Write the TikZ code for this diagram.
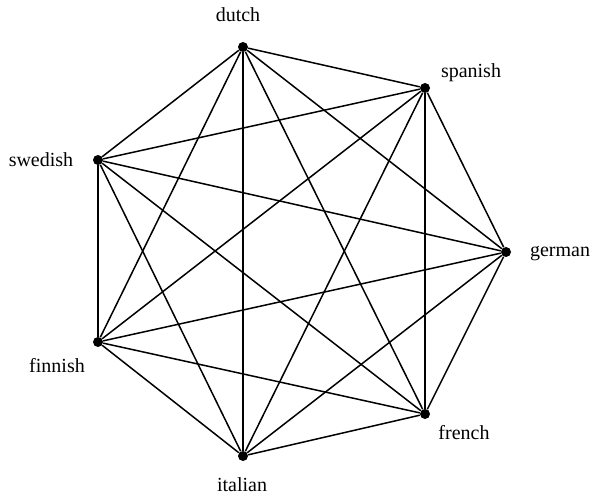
\documentclass[tikz,border=0pt]{standalone}
\usepackage{fontspec}
\setmainfont{Liberation Serif}
\usepackage{tikz}
\usetikzlibrary{positioning}

\begin{document}
\begin{tikzpicture}[x=0.6pt,y=-0.6pt,
    vertex/.style={circle,fill=black,inner sep=0pt,minimum size=6pt},
    lbl/.style={font=\fontsize{12}{14}\selectfont,inner sep=1pt},
    edge/.style={line width=0.9pt}]
    \useasboundingbox (0,0) rectangle (593,495);

    \node[vertex] (dutch) at (243,47) {};
    \node[vertex] (spanish) at (425,88) {};
    \node[vertex] (german) at (506,252) {};
    \node[vertex] (french) at (425,414) {};
    \node[vertex] (italian) at (243,456) {};
    \node[vertex] (finnish) at (98,342) {};
    \node[vertex] (swedish) at (98,160) {};

    \node[lbl] (dutchL) at (238,15) {dutch};
    \node[lbl] (spanishL) at (471,73) {spanish};
    \node[lbl] (germanL) at (560,254) {german};
    \node[lbl] (frenchL) at (464,433) {french};
    \node[lbl] (italianL) at (242,485) {italian};
    \node[lbl] (finnishL) at (57,366) {finnish};
    \node[lbl] (swedishL) at (41,160) {swedish};

    % complete graph
    \foreach \a/\others in {dutch/{spanish,german,french,italian,finnish,swedish},
                            spanish/{german,french,italian,finnish,swedish},
                            german/{french,italian,finnish,swedish},
                            french/{italian,finnish,swedish},
                            italian/{finnish,swedish},
                            finnish/{swedish}}
        \foreach \b in \others
            \draw[edge] (\a) -- (\b);
\end{tikzpicture}
\end{document}
